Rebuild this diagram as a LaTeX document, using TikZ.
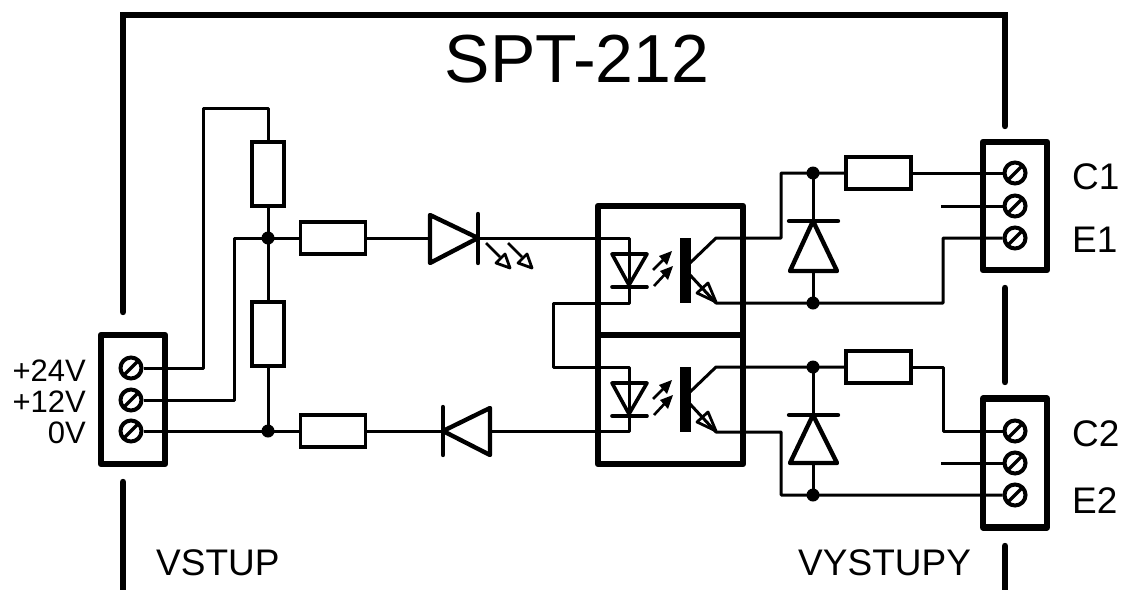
\documentclass[tikz,border=0pt]{standalone}
\usepackage{fontspec}
\setmainfont{Liberation Sans}
\tikzset{
  wire/.style={line width=3pt,line join=round},
  frameline/.style={line width=6.4pt,line cap=round},
  thickbox/.style={draw,line width=6.4pt,line join=round,inner sep=0pt},
  res/.style={draw,line width=3.6pt,inner sep=0pt,fill=white},
  hres/.style={res,minimum width=65pt,minimum height=32pt},
  vres/.style={res,minimum width=32pt,minimum height=64pt},
  dot/.style={circle,fill=black,inner sep=0pt,minimum size=13pt},
  screw/.style={circle,draw,line width=4pt,fill=white,inner sep=0pt,minimum size=21pt},
  anchorpt/.style={inner sep=0pt,minimum size=0pt},
  diode/.style={line width=4.4pt,line join=round,line cap=round},
  smalldiode/.style={line width=3.6pt,line join=round,line cap=round},
  lab/.style={inner sep=0pt,font=\fontsize{37}{37}\selectfont},
  plab/.style={inner sep=0pt,anchor=east,font=\fontsize{31}{31}\selectfont},
}
\newcommand{\screwmark}[1]{\draw[line width=3.4pt] ([shift={(-7.5pt,-7.5pt)}]#1.center) -- ([shift={(7.5pt,7.5pt)}]#1.center);}
\newcommand{\optoled}[2]{\begin{scope}[shift={(#1,#2)}]
  \draw[smalldiode] (612,254) -- (647,254) -- (629,285) -- cycle;
  \draw[smalldiode] (612,287) -- (647,287);
  \draw[line width=2.6pt] (653,270) -- (666,257);
  \fill (672,251) -- (659,256) -- (667,265) -- cycle;
  \draw[line width=2.6pt] (654,286) -- (667,272);
  \fill (673,266) -- (660,271) -- (668,280) -- cycle;
  \fill (680,238) rectangle (690.5,303);
\end{scope}}
\newcommand{\emitterhead}[2]{\begin{scope}[shift={(#1,#2)}]
  \draw[line width=2.8pt,line join=round] (716,302) -- (697,293) -- (708,283) -- cycle;
\end{scope}}
\begin{document}
\begin{tikzpicture}[x=1pt,y=-1pt]
\useasboundingbox (0,0) rectangle (1123,589);
% frame
\coordinate (ftl) at (123,15);
\coordinate (ftr) at (1005,15);
\draw[frameline,line join=miter] (123,312) -- (ftl) -- (ftr) -- (1005,126);
\draw[frameline] (123,482) -- (123,592);
\draw[frameline] (1005,288) -- (1005,382);
\draw[frameline] (1005,546) -- (1005,592);
\node[inner sep=0pt,font=\fontsize{68}{68}\selectfont] (title) at (577,59) {SPT-212};
% terminal boxes
\node[thickbox,minimum width=64pt,minimum height=129pt] (tl) at (133,399.5) {};
\node[thickbox,minimum width=64pt,minimum height=128pt] (tr1) at (1015,206) {};
\node[thickbox,minimum width=64pt,minimum height=129pt] (tr2) at (1015,463) {};
% opto box
\node[thickbox,minimum width=145pt,minimum height=129pt] (optoa) at (670.5,270.5) {};
\node[thickbox,minimum width=145pt,minimum height=129pt] (optob) at (670.5,399.5) {};
% screws
\node[screw] (s1) at (131,368) {};
\node[screw] (s2) at (131,400) {};
\node[screw] (s3) at (131,431) {};
\node[screw] (c1) at (1015,173) {};
\node[screw] (n1) at (1015,206) {};
\node[screw] (e1) at (1015,238) {};
\node[screw] (c2) at (1015,431) {};
\node[screw] (n2) at (1015,463) {};
\node[screw] (e2) at (1015,495) {};
% resistors
\node[vres] (ra) at (268,174) {};
\node[vres] (rb) at (268,334) {};
\node[hres] (rc) at (333,238) {};
\node[hres] (rd) at (333,431) {};
\node[hres] (re) at (878.5,173) {};
\node[hres] (rf) at (878.5,367) {};
% junctions
\node[dot] (j1) at (268,238) {};
\node[dot] (j2) at (268,431) {};
\node[dot] (j3) at (813,173) {};
\node[dot] (j4) at (813,303) {};
\node[dot] (j5) at (813,367) {};
\node[dot] (j6) at (813,495) {};
% diode nodes
\node[anchorpt] (d1in) at (430,238) {};
\node[anchorpt] (d1out) at (478,238) {};
\node[anchorpt] (d2in) at (490,431) {};
\node[anchorpt] (d2out) at (443,431) {};
\node[anchorpt] (d3top) at (813,221) {};
\node[anchorpt] (d3bot) at (813,271) {};
\node[anchorpt] (d4top) at (813,415) {};
\node[anchorpt] (d4bot) at (813,463) {};
\node[anchorpt] (ledaa) at (629,238) {};
\node[anchorpt] (ledab) at (629,303) {};
\node[anchorpt] (ledba) at (629,367) {};
\node[anchorpt] (ledbb) at (629,431) {};
\node[anchorpt] (cola) at (716,238) {};
\node[anchorpt] (ema) at (716,303) {};
\node[anchorpt] (colb) at (716,367) {};
\node[anchorpt] (emb) at (716,432) {};
\node[anchorpt] (stub1) at (941,206) {};
\node[anchorpt] (stub2) at (941,463) {};
\node[anchorpt] (base1) at (690,263) {};
\node[anchorpt] (base2) at (690,275) {};
\node[anchorpt] (base3) at (690,392) {};
\node[anchorpt] (base4) at (690,404) {};
% wires left
\draw[wire] (s1.east) -- (203,368) -- (203,108) -- (268,108) -- (ra.north);
\draw[wire] (ra.south) -- (j1.center) -- (rb.north);
\draw[wire] (rb.south) -- (j2.center);
\draw[wire] (s2.east) -- (234,400) -- (234,238) -- (j1.center);
\draw[wire] (j1.center) -- (rc.west);
\draw[wire] (s3.east) -- (j2.center) -- (rd.west);
\draw[wire] (rc.east) -- (d1in.center);
\draw[wire] (d1out.center) -- (ledaa.center) -- (ledab.center) -- (553,303) -- (553,367) -- (ledba.center) -- (ledbb.center) -- (d2in.center);
\draw[wire] (rd.east) -- (d2out.center);
% wires right, upper
\draw[wire] (base1.center) -- (cola.center) -- (781,238) -- (781,173) -- (j3.center) -- (re.west);
\draw[wire] (re.east) -- (c1.west);
\draw[wire] (j3.center) -- (d3top.center);
\draw[wire] (d3bot.center) -- (j4.center);
\draw[wire] (base2.center) -- (ema.center) -- (j4.center) -- (943,303) -- (943,238) -- (e1.west);
\draw[wire] (stub1.center) -- (n1.west);
% wires right, lower
\draw[wire] (base3.center) -- (colb.center) -- (j5.center) -- (rf.west);
\draw[wire] (rf.east) -- (943,367) -- (943,431) -- (c2.west);
\draw[wire] (j5.center) -- (d4top.center);
\draw[wire] (d4bot.center) -- (j6.center);
\draw[wire] (base4.center) -- (emb.center) -- (781,432) -- (781,495) -- (j6.center) -- (e2.west);
\draw[wire] (stub2.center) -- (n2.west);
% screw slashes
\foreach \n in {s1,s2,s3,c1,n1,e1,c2,n2,e2}{\screwmark{\n}}
% large diodes
\draw[diode] (430,215) -- (430,263) -- (d1out.center) -- cycle;
\draw[diode] (478,214) -- (478,263);
\draw[line width=2.6pt] (486,243) -- (500,257);
\draw[line width=2.8pt,line join=round] (510,268) -- (496,263) -- (505,254) -- cycle;
\draw[line width=2.6pt] (508,243) -- (522,257);
\draw[line width=2.8pt,line join=round] (532,268) -- (518,263) -- (527,254) -- cycle;
\draw[diode] (490,408) -- (490,455) -- (d2out.center) -- cycle;
\draw[diode] (443,407) -- (443,455);
\draw[diode] (790,271) -- (837,271) -- (d3top.center) -- cycle;
\draw[diode] (789,221) -- (838,221);
\draw[diode] (790,463) -- (837,463) -- (d4top.center) -- cycle;
\draw[diode] (789,415) -- (838,415);
% optocoupler internals
\optoled{0}{0}
\optoled{0}{129}
\emitterhead{0}{0}
\emitterhead{0}{129}
% labels
\node[plab] (l24) at (86,371) {+24V};
\node[plab] (l12) at (86,402) {+12V};
\node[plab] (l0) at (86,433) {0V};
\node[lab,anchor=west] (lc1) at (1072,177) {C1};
\node[lab,anchor=west] (le1) at (1072,240) {E1};
\node[lab,anchor=west] (lc2) at (1072,434) {C2};
\node[lab,anchor=west] (le2) at (1072,501) {E2};
\node[lab,anchor=west] (lin) at (156,563) {VSTUP};
\node[lab,anchor=west] (lout) at (798,563) {VYSTUPY};
\end{tikzpicture}
\end{document}
